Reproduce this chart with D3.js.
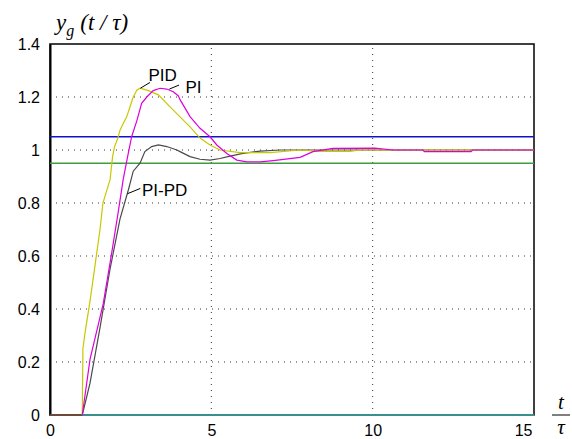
<!DOCTYPE html>
<html>
<head>
<meta charset="utf-8">
<script src="https://cdn.jsdelivr.net/npm/d3@7/dist/d3.min.js"></script>
<style>
  body { margin: 0; background: #fff; }
  svg { display: block; }
  .tick text { font-family: "Liberation Sans", Arial, sans-serif; font-size: 16px; fill: #000; }
</style>
</head>
<body>
<svg id="chart" width="572" height="439"></svg>
<script>
// step responses (t/tau, y)
const pidT = [1, 1.02, 1.085, 1.24, 1.39, 1.55, 1.64, 1.86, 1.94, 2.0, 2.1, 2.17, 2.27, 2.38, 2.48, 2.58, 2.69, 2.79, 3.05, 3.36, 3.72, 4.03, 4.34, 4.65, 4.96, 5.27, 5.89, 6.82, 7.75, 8.37, 9.3, 9.6, 15];
const pidY = [0, 0.25, 0.31, 0.43, 0.56, 0.70, 0.80, 0.887, 0.975, 1.013, 1.044, 1.075, 1.10, 1.126, 1.163, 1.20, 1.226, 1.233, 1.224, 1.208, 1.163, 1.125, 1.087, 1.045, 1.019, 1.0, 0.99, 0.99, 1.0, 0.995, 0.995, 1.0, 1.0];

const piT = [1, 1.24, 1.65, 1.91, 2.12, 2.27, 2.43, 2.53, 2.69, 2.84, 3.0, 3.2, 3.41, 3.62, 3.82, 3.98, 4.03, 4.34, 4.65, 4.96, 5.17, 5.48, 5.79, 6.1, 6.51, 6.92, 7.75, 8.15, 8.77, 10.07, 10.63, 11.56, 11.6, 13.05, 13.1, 15];
const piY = [0, 0.21, 0.42, 0.61, 0.77, 0.89, 0.99, 1.05, 1.11, 1.176, 1.20, 1.224, 1.233, 1.23, 1.22, 1.204, 1.19, 1.126, 1.082, 1.05, 1.019, 0.987, 0.962, 0.955, 0.955, 0.96, 0.972, 0.994, 1.006, 1.007, 1.0, 1.0, 0.994, 0.994, 1.0, 1.0];

const pipdT = [1, 1.24, 1.55, 1.86, 2.17, 2.43, 2.58, 2.79, 2.94, 3.15, 3.36, 3.62, 3.93, 4.03, 4.34, 4.65, 4.96, 5.27, 5.58, 5.98, 6.51, 7.13, 15];
const pipdY = [0, 0.12, 0.33, 0.55, 0.74, 0.85, 0.92, 0.95, 0.994, 1.013, 1.019, 1.013, 1.0, 0.994, 0.975, 0.965, 0.962, 0.968, 0.977, 0.987, 0.996, 1.0, 1.0];

const delayT = [0, 1];      // dead time, y = 0
const baseT = [1, 15];      // zero line after the delay
const bandHi = 1.05, bandLo = 0.95;

const xTicks = [0, 5, 10, 15];
const yTicks = [0, 0.2, 0.4, 0.6, 0.8, 1, 1.2, 1.4];

const svg = d3.select("#chart");
const margin = {left: 50, right: 38, top: 44, bottom: 24};
const width = 572, height = 439;

const x = d3.scaleLinear().domain([0, 15]).range([margin.left, width - margin.right]);
const y = d3.scaleLinear().domain([0, 1.4]).range([height - margin.bottom, margin.top]);

// dotted grid
svg.append("g").selectAll("line")
    .data(xTicks.filter(d => d > 0 && d < 15))
    .enter().append("line")
    .attr("x1", d => x(d)).attr("x2", d => x(d))
    .attr("y1", y(0)).attr("y2", y(1.4))
    .attr("stroke", "#333").attr("stroke-width", 1).attr("stroke-dasharray", "1,5");
svg.append("g").selectAll("line")
    .data(yTicks.filter(d => d > 0 && d < 1.4))
    .enter().append("line")
    .attr("x1", x(0)).attr("x2", x(15))
    .attr("y1", d => y(d)).attr("y2", d => y(d))
    .attr("stroke", "#333").attr("stroke-width", 1).attr("stroke-dasharray", "1,5");

// frame
svg.append("rect")
    .attr("x", x(0)).attr("y", y(1.4))
    .attr("width", x(15) - x(0)).attr("height", y(0) - y(1.4))
    .attr("fill", "none").attr("stroke", "#000").attr("stroke-width", 1.5);

const yAxis = svg.append("g")
    .attr("transform", `translate(${x(0)},0)`)
    .call(d3.axisLeft(y).tickValues(yTicks).tickFormat(d3.format("~g")).tickSize(0).tickPadding(10));
yAxis.select(".domain").attr("stroke", "#000").attr("stroke-width", 2);

const xAxis = svg.append("g")
    .attr("transform", `translate(0,${y(0)})`)
    .call(d3.axisBottom(x).tickValues(xTicks).tickSize(0).tickPadding(10));
xAxis.select(".domain").remove();
xAxis.selectAll(".tick text").filter(d => d === 15).attr("text-anchor", "end").attr("dx", "-2");

// tolerance band
svg.append("line")
    .attr("x1", x(0)).attr("x2", x(15)).attr("y1", y(bandHi)).attr("y2", y(bandHi))
    .attr("stroke", "#1010d0").attr("stroke-width", 1.5);
svg.append("line")
    .attr("x1", x(0)).attr("x2", x(15)).attr("y1", y(bandLo)).attr("y2", y(bandLo))
    .attr("stroke", "#3c9e3c").attr("stroke-width", 1.5);

const line = d3.line().x(d => x(d[0])).y(d => y(d[1]));
const zip = (ts, ys) => ts.map((t, i) => [t, ys[i]]);

svg.append("path").datum(delayT.map(t => [t, 0]))
    .attr("d", line).attr("fill", "none").attr("stroke", "#6b4a3a").attr("stroke-width", 2);
svg.append("path").datum(baseT.map(t => [t, 0]))
    .attr("d", line).attr("fill", "none").attr("stroke", "#3a8f8f").attr("stroke-width", 2);

svg.append("path").datum(zip(pipdT, pipdY))
    .attr("d", line).attr("fill", "none").attr("stroke", "#4a4a4a").attr("stroke-width", 1.2);
svg.append("path").datum(zip(pidT, pidY))
    .attr("d", line).attr("fill", "none").attr("stroke", "#c8c800").attr("stroke-width", 1.2);
svg.append("path").datum(zip(piT, piY))
    .attr("d", line).attr("fill", "none").attr("stroke", "#dd00dd").attr("stroke-width", 1.2);

// curve labels with leader lines
const labels = [
    {text: "PID", at: [2.8, 1.233], to: [3.1, 1.255], tx: 3.05, ty: 1.26},
    {text: "PI", at: [3.7, 1.23], to: [4.0, 1.245], tx: 4.2, ty: 1.215},
    {text: "PI-PD", at: [2.4, 0.835], to: [2.8, 0.855], tx: 2.85, ty: 0.825}
];
labels.forEach(l => {
    svg.append("line")
        .attr("x1", x(l.at[0])).attr("y1", y(l.at[1]))
        .attr("x2", x(l.to[0])).attr("y2", y(l.to[1]))
        .attr("stroke", "#000").attr("stroke-width", 1);
    svg.append("text")
        .attr("x", x(l.tx)).attr("y", y(l.ty))
        .attr("font-family", "Liberation Sans, Arial, sans-serif")
        .attr("font-size", 17).text(l.text);
});

// axis titles
const yt = svg.append("text")
    .attr("x", 56).attr("y", 30)
    .attr("font-family", "Liberation Serif, Times New Roman, serif")
    .attr("font-style", "italic").attr("font-size", 23);
yt.append("tspan").text("y");
yt.append("tspan").attr("dy", 6).attr("font-size", 16).text("g");
yt.append("tspan").attr("dy", -6).attr("dx", 6).text("(t / τ)");

svg.append("text").attr("x", 561).attr("y", 409).attr("text-anchor", "middle")
    .attr("font-family", "Liberation Serif, Times New Roman, serif")
    .attr("font-style", "italic").attr("font-size", 21).text("t");
svg.append("line").attr("x1", 552).attr("x2", 570).attr("y1", 415).attr("y2", 415)
    .attr("stroke", "#000").attr("stroke-width", 1);
svg.append("text").attr("x", 561).attr("y", 434).attr("text-anchor", "middle")
    .attr("font-family", "Liberation Serif, Times New Roman, serif")
    .attr("font-style", "italic").attr("font-size", 21).text("τ");
</script>
</body>
</html>
